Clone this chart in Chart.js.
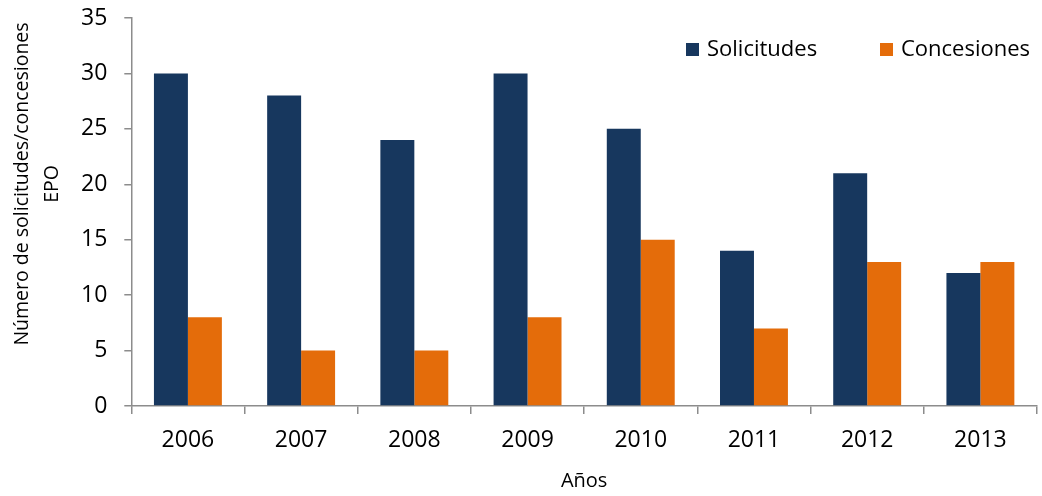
<!DOCTYPE html>
<html>
<head>
<meta charset="utf-8">
<script src="https://cdn.jsdelivr.net/npm/chart.js@4"></script>
<style>
  html, body { margin: 0; padding: 0; background: #fff; }
  #wrap { width: 1042px; height: 496px; }
</style>
</head>
<body>
<div id="wrap"><canvas id="chart"></canvas></div>
<script>
const years = ["2006", "2007", "2008", "2009", "2010", "2011", "2012", "2013"]
const solicitudes = [30, 28, 24, 30, 25, 14, 21, 12]
const concesiones = [8, 5, 5, 8, 15, 7, 13, 13]
const yTicks = [0, 5, 10, 15, 20, 25, 30, 35]
const yTitle = ["Número de solicitudes/concesiones", "EPO"]

const FONT = "'Open Sans', sans-serif"
const axisColor = "#8c8c8c"

// legend drawn inside the plot area, top right
const innerLegend = {
  id: "innerLegend",
  afterDraw(chart) {
    const ctx = chart.ctx
    const area = chart.chartArea
    const items = chart.data.datasets
    const xs = [area.right - 351, area.right - 157]
    const y = area.top + 32
    ctx.save()
    ctx.font = "22px " + FONT
    ctx.textBaseline = "middle"
    items.forEach((ds, i) => {
      ctx.fillStyle = ds.backgroundColor
      ctx.fillRect(xs[i], y - 7, 13, 13)
      ctx.fillStyle = "#000"
      ctx.fillText(ds.label, xs[i] + 21, y)
    })
    ctx.restore()
  },
}

// y title sits a bit above the axis middle, like the original
const sideTitle = {
  id: "sideTitle",
  afterDraw(chart) {
    const ctx = chart.ctx
    ctx.save()
    ctx.font = "19.5px " + FONT
    ctx.fillStyle = "#000"
    ctx.textAlign = "center"
    ctx.textBaseline = "middle"
    ctx.translate(0, 184)
    ctx.rotate(-Math.PI / 2)
    yTitle.forEach((line, i) => ctx.fillText(line, 0, 22 + i * 30))
    ctx.restore()
  },
}

new Chart(document.getElementById("chart"), {
  type: "bar",
  data: {
    labels: years,
    datasets: [
      { label: "Solicitudes", data: solicitudes, backgroundColor: "#17375e" },
      { label: "Concesiones", data: concesiones, backgroundColor: "#e46c0a" },
    ],
  },
  options: {
    responsive: true,
    maintainAspectRatio: false,
    animation: false,
    layout: { padding: { top: 18, right: 5, bottom: 5, left: 64 } },
    datasets: { bar: { categoryPercentage: 0.6, barPercentage: 1.0 } },
    plugins: {
      legend: { display: false },
      tooltip: { enabled: false },
    },
    scales: {
      x: {
        grid: { drawOnChartArea: false, drawTicks: true, tickLength: 8, color: axisColor, lineWidth: 1.5 },
        border: { color: axisColor, width: 1.5 },
        ticks: { color: "#000", font: { family: FONT, size: 23, lineHeight: 1 }, padding: 15 },
        title: {
          display: true,
          text: "Años",
          color: "#000",
          font: { family: FONT, size: 20, lineHeight: 1 },
          padding: { top: 4, bottom: 0 },
        },
      },
      y: {
        min: 0,
        max: 35,
        afterBuildTicks: (axis) => { axis.ticks = yTicks.map((v) => ({ value: v })) },
        afterFit: (axis) => { axis.paddingTop = 0 },
        grid: { drawOnChartArea: false, drawTicks: true, tickLength: 7, color: axisColor, lineWidth: 1.5 },
        border: { color: axisColor, width: 1.5 },
        ticks: { color: "#000", font: { family: FONT, size: 23, lineHeight: 1 }, padding: 17 },
      },
    },
  },
  plugins: [innerLegend, sideTitle],
})
</script>
</body>
</html>
